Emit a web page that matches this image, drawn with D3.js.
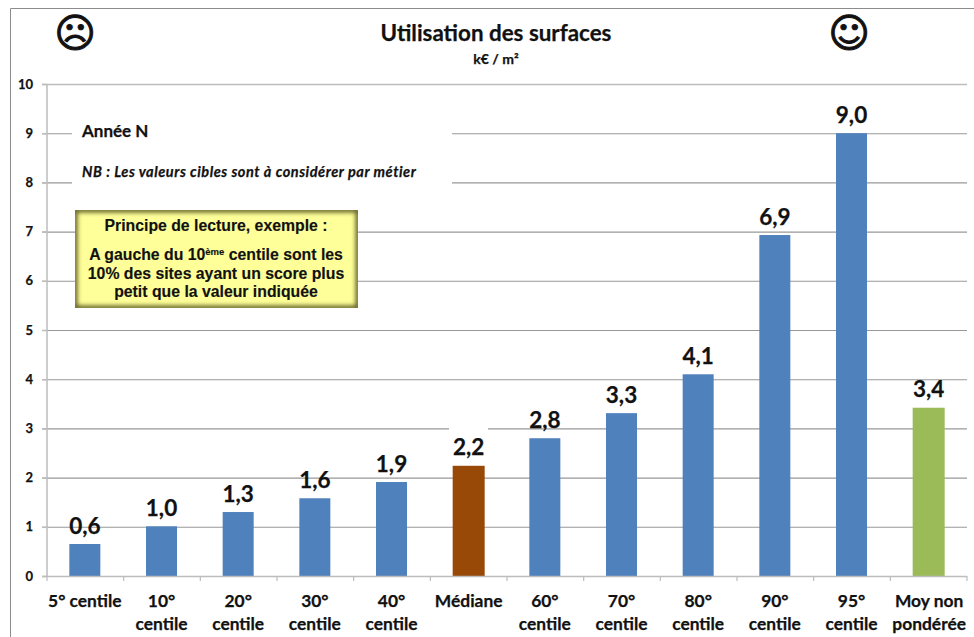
<!DOCTYPE html>
<html><head><meta charset="utf-8">
<script src="https://cdn.jsdelivr.net/npm/d3@7"></script>
<style>html,body{margin:0;padding:0;background:#fff}svg{display:block}text{fill:#111;font-family:Lato,"Open Sans",sans-serif;font-weight:700;stroke:#111;stroke-width:.25px}</style>
</head><body><svg width="974" height="637"></svg>
<script>
const categories=[["5° centile"],["10°","centile"],["20°","centile"],["30°","centile"],["40°","centile"],["Médiane"],["60°","centile"],["70°","centile"],["80°","centile"],["90°","centile"],["95°","centile"],["Moy non","pondérée"]];
const values=[0.65,1.01,1.3,1.58,1.91,2.24,2.8,3.31,4.1,6.93,9.0,3.42];
const valueLabels=["0,6","1,0","1,3","1,6","1,9","2,2","2,8","3,3","4,1","6,9","9,0","3,4"];
const barColors=["#4f81bd","#4f81bd","#4f81bd","#4f81bd","#4f81bd","#984807","#4f81bd","#4f81bd","#4f81bd","#4f81bd","#4f81bd","#9bbb59"];
const yTicks=[0,1,2,3,4,5,6,7,8,9,10];
const boxLines=["A gauche du 10","10% des sites ayant un score plus","petit que la valeur indiquée"];

const svg=d3.select("svg");
const defs=svg.append("defs");
defs.append("clipPath").attr("id","boxClip").append("rect").attr("x",75).attr("y",210).attr("width",283).attr("height",98);
defs.append("filter").attr("id","soft").attr("x","-10%").attr("y","-10%").attr("width","120%").attr("height","120%")
 .append("feGaussianBlur").attr("stdDeviation",2.2);
const x=d3.scaleBand().domain(d3.range(categories.length)).range([47,967]);
const y=d3.scaleLinear().domain([0,10]).range([576,84]);
const accent=i=>barColors[i]!==barColors[0];
const barW=i=>accent(i)?32:31;
const mid=i=>x(i)+x.bandwidth()/2-(accent(i)?0:.5);

svg.append("path").attr("d","M10.5,637V8.5H974").attr("fill","none").attr("stroke","#8c8c8c").attr("stroke-width",1);

// gridlines
svg.append("g").selectAll("line").data(yTicks.filter(d=>d>0)).join("line")
 .attr("x1",42).attr("x2",967).attr("y1",d=>y(d)+.5).attr("y2",d=>y(d)+.5)
 .attr("stroke",d=>d==10?"#bdbdbd":"#989898").attr("stroke-width",d=>d==10?1.5:1.1);

// axes
const gy=svg.append("g").attr("transform","translate(47,0)").call(d3.axisLeft(y).tickValues(yTicks).tickSize(5).tickPadding(9).tickFormat(d3.format("d")));
gy.selectAll("path,line").attr("stroke","#bdbdbd").attr("stroke-width",1.5);
gy.selectAll("text").attr("font-size",13).attr("dy","0.32em").style("font-family","Lato");
gy.select(".domain").attr("d","M0,84V576");

// white masks behind the annotation and the median label
svg.append("rect").attr("x",72).attr("y",118).attr("width",380).attr("height",72).attr("fill","#fff");
svg.append("rect").attr("x",449).attr("y",426).attr("width",39).attr("height",5).attr("fill","#fff");

// bars
svg.append("g").selectAll("rect").data(values).join("rect")
 .attr("x",(d,i)=>mid(i)-barW(i)/2).attr("width",(d,i)=>barW(i))
 .attr("y",d=>y(d)).attr("height",d=>y(0)-y(d)).attr("fill",(d,i)=>barColors[i]);

const ticks=svg.append("g");
ticks.append("line").attr("x1",42).attr("x2",967).attr("y1",576.5).attr("y2",576.5).attr("stroke","#bdbdbd").attr("stroke-width",1.5);
ticks.selectAll("line.t").data(d3.range(categories.length+1)).join("line").attr("class","t")
 .attr("x1",i=>47+i*x.bandwidth()).attr("x2",i=>47+i*x.bandwidth()).attr("y1",576).attr("y2",581).attr("stroke","#bdbdbd").attr("stroke-width",1.2);

// value labels
svg.append("g").selectAll("text").data(valueLabels).join("text")
 .attr("x",(d,i)=>mid(i)).attr("y",(d,i)=>y(values[i])-10.5)
 .attr("text-anchor","middle").attr("font-size",22.5).text(d=>d);

// category labels
const cat=svg.append("g").selectAll("text").data(categories).join("text")
 .attr("text-anchor","middle").attr("font-size",17.4);
cat.each(function(lines,i){
 d3.select(this).selectAll("tspan").data(lines).join("tspan")
  .attr("x",mid(i)+(i===categories.length-1?.5:0)).attr("y",(d,j)=>606.5+j*23.5).text(d=>d);
});

// title
svg.append("text").attr("x",496).attr("y",40.5).attr("text-anchor","middle").attr("font-size",22.4).text("Utilisation des surfaces");
svg.append("text").attr("x",496).attr("y",63.5).attr("text-anchor","middle").attr("font-size",14).text("k€ / m²");
svg.append("text").attr("x",75).attr("y",47).attr("text-anchor","middle").attr("font-size",40).style("font-family","DejaVu Sans").style("font-weight",400).style("stroke-width","1px").text("☹");
svg.append("text").attr("x",849).attr("y",47).attr("text-anchor","middle").attr("font-size",40).style("font-family","DejaVu Sans").style("font-weight",400).style("stroke-width","1px").text("☺");

// annotation
svg.append("text").attr("x",82).attr("y",137).attr("font-size",17).text("Année N");
svg.append("text").attr("x",82).attr("y",177).attr("font-size",14.5).style("font-style","italic").style("letter-spacing","0.55px").text("NB : Les valeurs cibles sont à considérer par métier");

// note box with a darkened soft inner edge
svg.append("rect").attr("x",75).attr("y",210).attr("width",283).attr("height",98).attr("fill","#ffff99");
svg.append("g").attr("clip-path","url(#boxClip)").append("rect").attr("x",75).attr("y",210).attr("width",283).attr("height",98)
 .attr("fill","none").attr("stroke","#5f5f25").attr("stroke-width",5).attr("filter","url(#soft)");
const ar=s=>s.style("font-family","'Liberation Sans'").attr("text-anchor","middle").attr("font-size",15.8).style("stroke-width",".15px");
const b=svg.append("g");
ar(b.append("text").attr("x",216).attr("y",231).text("Principe de lecture, exemple :"));
const l1=ar(b.append("text").attr("x",216).attr("y",260));
l1.append("tspan").text(boxLines[0]);
l1.append("tspan").attr("dy",-5).attr("font-size",9.5).text("ème");
l1.append("tspan").attr("dy",5).text(" centile sont les");
ar(b.append("text").attr("x",216).attr("y",279).text(boxLines[1]));
ar(b.append("text").attr("x",216).attr("y",297).text(boxLines[2]));
</script></body></html>
